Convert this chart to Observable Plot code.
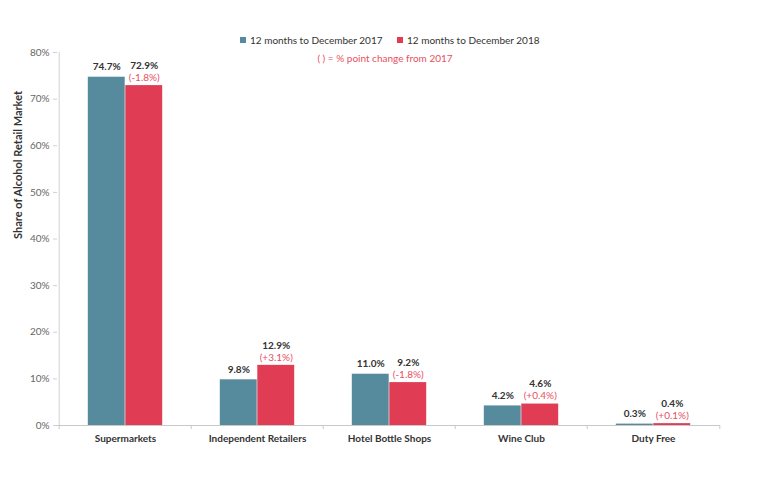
<!DOCTYPE html>
<html>
<head>
<meta charset="utf-8">
<script src="https://cdn.jsdelivr.net/npm/d3@7"></script>
<script src="https://cdn.jsdelivr.net/npm/@observablehq/plot@0.6"></script>
<style>
  html, body { margin: 0; padding: 0; background: #fff; }
  #wrap { position: relative; width: 768px; height: 501px; font-family: Lato, "Open Sans", sans-serif; }
  .leg { position: absolute; top: 34px; font-size: 10px; color: #333; white-space: nowrap; }
  .sw { display: inline-block; width: 6px; height: 6px; margin-right: 4px; vertical-align: 1px; }
  .note { position: absolute; top: 52px; left: 0; width: 770px; text-align: center; font-size: 10px; color: #e8505f; }
</style>
</head>
<body>
<div id="wrap"></div>
<script>
const categories = ["Supermarkets", "Independent Retailers", "Hotel Bottle Shops", "Wine Club", "Duty Free"];
const values2017 = [74.7, 9.8, 11.0, 4.2, 0.3];
const values2018 = [72.9, 12.9, 9.2, 4.6, 0.4];
const change = [-1.8, 3.1, -1.8, 0.4, 0.1];
const seriesNames = ["12 months to December 2017", "12 months to December 2018"];
const yTicks = [0, 10, 20, 30, 40, 50, 60, 70, 80];

const blue = "#568a9d";
const red = "#e03c53";
const redText = "#e8505f";

const rows = categories.map((c, i) => ({category: c, v17: values2017[i], v18: values2018[i], ch: change[i]}));

const W = 768, H = 501, mL = 57, mR = 48;
const bw = (W - mL - mR) / categories.length;
const barW = 37.5;
const fmt = v => v.toFixed(1) + "%";
const fmtCh = v => "(" + (v >= 0 ? "+" : "") + v.toFixed(1) + "%)";

const plot = Plot.plot({
  width: W,
  height: H,
  marginLeft: mL,
  marginRight: mR,
  marginTop: 52,
  marginBottom: 76,
  style: {fontFamily: "Lato, 'Open Sans', sans-serif", background: "#fff"},
  x: {domain: categories, padding: 0},
  y: {domain: [0, 80]},
  marks: [
    Plot.barY(rows, {x: "category", y: "v17", fill: blue, insetLeft: bw / 2 - barW, insetRight: bw / 2}),
    Plot.barY(rows, {x: "category", y: "v18", fill: red, insetLeft: bw / 2, insetRight: bw / 2 - barW}),
    // y axis line
    Plot.ruleX([categories[0]], {x: d => d, y1: 0, y2: 80, dx: -bw / 2, stroke: "#d0d0d0"}),
    // x axis line
    Plot.ruleY([0], {stroke: "#c8c8c8"}),
    // boundary tick marks on x axis
    Plot.ruleX(categories, {x: d => d, y1: 0, y2: 0, dx: -bw / 2, insetBottom: -4, stroke: "#c8c8c8"}),
    Plot.ruleX([categories[categories.length - 1]], {x: d => d, y1: 0, y2: 0, dx: bw / 2, insetBottom: -4, stroke: "#c8c8c8"}),
    Plot.axisY({ticks: yTicks, tickFormat: d => d + "%", tickSize: 4, tickPadding: 4, stroke: "#d0d0d0", fill: "#666", fontSize: 10, label: null}),
    Plot.axisX({tickSize: 0, tickPadding: 9, fontSize: 10, fontWeight: "bold", fill: "#333", label: null}),
    Plot.text(rows, {x: "category", y: "v17", text: d => fmt(d.v17), dx: -barW / 2, dy: -10, fontWeight: "bold", fontSize: 10, fill: "#333"}),
    Plot.text(rows, {x: "category", y: "v18", text: d => fmt(d.v18), dx: barW / 2, dy: -20, fontWeight: "bold", fontSize: 10, fill: "#333"}),
    Plot.text(rows, {x: "category", y: "v18", text: d => fmtCh(d.ch), dx: barW / 2, dy: -8, fontSize: 10, fill: redText}),
    Plot.text(["Share of Alcohol Retail Market"], {frameAnchor: "left", rotate: -90, dx: -39, fontWeight: "bold", fontSize: 11, fill: "#333"})
  ]
});

const wrap = document.getElementById("wrap");
wrap.appendChild(plot);

const colors = [blue, red];
const lefts = [240, 397];
seriesNames.forEach((s, i) => {
  const d = document.createElement("div");
  d.className = "leg";
  d.style.left = lefts[i] + "px";
  d.innerHTML = `<span class="sw" style="background:${colors[i]}"></span>${s}`;
  wrap.appendChild(d);
});
const note = document.createElement("div");
note.className = "note";
note.textContent = "( ) = % point change from 2017";
wrap.appendChild(note);
</script>
</body>
</html>
